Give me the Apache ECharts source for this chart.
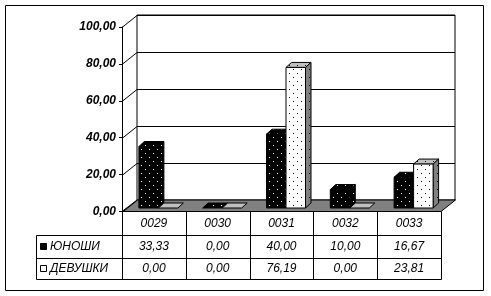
<!DOCTYPE html>
<html><head><meta charset="utf-8">
<script src="https://cdn.jsdelivr.net/npm/echarts@6/dist/echarts.min.js"></script>
<style>html,body{margin:0;padding:0;background:#fff}#c{width:491px;height:296px}</style>
</head><body><div id="c"></div>
<script>
const categories = ['0029', '0030', '0031', '0032', '0033'];
const seriesNames = ['ЮНОШИ', 'ДЕВУШКИ'];
const boys = [33.33, 0.00, 40.00, 10.00, 16.67];
const girls = [0.00, 0.00, 76.19, 0.00, 23.81];
const yTicks = [0, 20, 40, 60, 80, 100];

function fmt(v) { return v.toFixed(2).replace('.', ','); }
function pattern(bg, dot) {
  const c = document.createElement('canvas'); c.width = c.height = 8;
  const g = c.getContext('2d');
  g.fillStyle = bg; g.fillRect(0, 0, 8, 8);
  g.fillStyle = dot; g.fillRect(1, 1, 1, 1); g.fillRect(5, 5, 1, 1);
  return { image: c, repeat: 'repeat' };
}
const P = {
  blackFront: pattern('#000', '#fff'),
  blackTop: pattern('#000', '#fff'),
  blackSide: pattern('#000', '#fff'),
  whiteFront: pattern('#fff', '#000'),
  whiteTop: pattern('#c0c0c0', '#000'),
  whiteSide: pattern('#808080', '#000')
};

// layout
const FL = 122, FR = 441, FT = 27, FB = 211.5;   // front axis plane
const BL = 137, BR = 455, BT = 15, BB = 200;     // back wall
const SX = 4.5, SY = -3.5, BW = 19.5, DX = 5.5, DY = -5;
const FONT = 'italic 12px "Liberation Sans", Arial, sans-serif';

const chart = echarts.init(document.getElementById('c'), null, { renderer: 'canvas' });

function barItem(values, s) {
  return function (params, api) {
    const i = api.value(0), v = api.value(1);
    const base = api.coord([i, 0]);
    const top = api.coord([i, v]);
    const x0 = base[0] + SX + (s === 0 ? -BW : 0);
    const yb = base[1] + SY, yt = top[1] + SY;
    const front = s === 0 ? P.blackFront : P.whiteFront;
    const topF = s === 0 ? P.blackTop : P.whiteTop;
    const side = s === 0 ? P.blackSide : P.whiteSide;
    const st = { stroke: '#000', lineWidth: 1 };
    const ch = [];
    ch.push({ type: 'polygon', shape: { points: [[x0, yt], [x0 + BW, yt], [x0 + BW + DX, yt + DY], [x0 + DX, yt + DY]] },
      style: Object.assign({ fill: v === 0 && s === 1 ? '#c0c0c0' : topF }, st) });
    if (v > 0) {
      ch.push({ type: 'polygon', shape: { points: [[x0 + BW, yt], [x0 + BW + DX, yt + DY], [x0 + BW + DX, yb + DY], [x0 + BW, yb]] },
        style: Object.assign({ fill: side }, st) });
      ch.push({ type: 'rect', shape: { x: x0, y: yt, width: BW, height: yb - yt },
        style: Object.assign({ fill: front }, st) });
    }
    return { type: 'group', children: ch };
  };
}

const tableSeries = {
  type: 'custom', xAxisIndex: 1, yAxisIndex: 1, z: 5,
  data: categories.map((c, i) => [i, 0]),
  renderItem: function (params, api) {
    const i = api.value(0);
    const x = api.coord([i, 0])[0];
    const t = (text, y) => ({ type: 'text', style: { text, x, y, align: 'center', verticalAlign: 'middle', font: FONT, fill: '#000' } });
    return { type: 'group', children: [t(categories[i], 223.5), t(fmt(boys[i]), 247), t(fmt(girls[i]), 269)] };
  }
};

const g = [];
// outer border
g.push({ type: 'rect', shape: { x: 5.5, y: 5.5, width: 478, height: 285 }, style: { fill: 'none', stroke: '#000', lineWidth: 1 }, z: 0 });
// floor
g.push({ type: 'polygon', shape: { points: [[FL, FB], [FR, FB], [BR + 0.5, BB], [BL, BB]] }, style: { fill: '#808080', stroke: '#000', lineWidth: 1 }, z: 1 });
// diagonal ticks
yTicks.forEach((t, k) => {
  const yf = Math.round(FB - (FB - FT) * t / 100) + 0.5;
  const yb = Math.round(BB - (BB - BT) * t / 100) + 0.5;
  g.push({ type: 'line', shape: { x1: FL, y1: yf, x2: BL, y2: yb }, style: { stroke: '#000', lineWidth: 1 }, z: 1 });
});
// table lines
const colW = (FR - FL) / categories.length;
const rowY = [235.5, 258.5, 279.5];
rowY.forEach(y => g.push({ type: 'line', shape: { x1: 36.5, y1: y, x2: FR + 0.5, y2: y }, style: { stroke: '#000', lineWidth: 1 }, z: 2 }));
g.push({ type: 'line', shape: { x1: 36.5, y1: 235.5, x2: 36.5, y2: 279.5 }, style: { stroke: '#000', lineWidth: 1 }, z: 2 });
for (let k = 0; k <= categories.length; k++) {
  const x = Math.round(FL + k * colW) + 0.5;
  g.push({ type: 'line', shape: { x1: x, y1: 211.5, x2: x, y2: 279.5 }, style: { stroke: '#000', lineWidth: 1 }, z: 2 });
}
// legend keys
g.push({ type: 'rect', shape: { x: 40.5, y: 243.5, width: 6, height: 6 }, style: { fill: '#000', stroke: '#000' }, z: 2 });
g.push({ type: 'rect', shape: { x: 40.5, y: 265.5, width: 6, height: 6 }, style: { fill: '#fff', stroke: '#000' }, z: 2 });
g.push({ type: 'text', style: { text: seriesNames[0], x: 50, y: 247, verticalAlign: 'middle', font: FONT, fill: '#000' }, z: 2 });
g.push({ type: 'text', style: { text: seriesNames[1], x: 50, y: 269, verticalAlign: 'middle', font: FONT, fill: '#000' }, z: 2 });

chart.setOption({
  animation: false,
  backgroundColor: '#fff',
  grid: [
    { left: BL, top: BT, width: BR - BL, height: BB - BT, show: true, borderColor: '#000', borderWidth: 1, backgroundColor: 'transparent' },
    { left: FL, top: FT, width: FR - FL, height: FB - FT }
  ],
  xAxis: [
    { type: 'category', gridIndex: 0, data: categories, show: false },
    { type: 'category', gridIndex: 1, data: categories, axisLine: { show: false }, axisTick: { show: false }, axisLabel: { show: false } }
  ],
  yAxis: [
    { type: 'value', gridIndex: 0, min: 0, max: 100, interval: 20, axisLine: { show: false }, axisTick: { show: false }, axisLabel: { show: false },
      splitLine: { show: true, lineStyle: { color: '#000', width: 1 } } },
    { type: 'value', gridIndex: 1, min: 0, max: 100, interval: 20, splitLine: { show: false },
      axisLine: { show: true, lineStyle: { color: '#000', width: 1 } },
      axisTick: { show: true, inside: false, length: 3, lineStyle: { color: '#000' } },
      axisLabel: { margin: 6, formatter: v => fmt(v), fontFamily: '"Liberation Sans", Arial, sans-serif', fontSize: 12, fontWeight: 'bold', fontStyle: 'italic', color: '#000' } }
  ],
  graphic: { elements: g },
  series: [
    { name: seriesNames[0], type: 'custom', xAxisIndex: 1, yAxisIndex: 1, z: 3, data: boys.map((v, i) => [i, v]), renderItem: barItem(boys, 0) },
    { name: seriesNames[1], type: 'custom', xAxisIndex: 1, yAxisIndex: 1, z: 4, data: girls.map((v, i) => [i, v]), renderItem: barItem(girls, 1) },
    tableSeries
  ]
});
</script></body></html>
